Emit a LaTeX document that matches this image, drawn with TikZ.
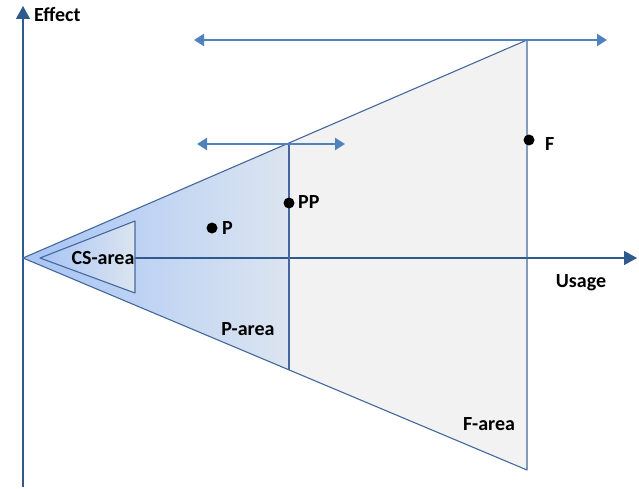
\documentclass[tikz,border=0pt]{standalone}
\usepackage{fontspec}
\setmainfont{Carlito}
\usetikzlibrary{arrows.meta}
\definecolor{axisblue}{HTML}{2E5A8E}
\definecolor{edgeblue}{HTML}{44689C}
\definecolor{arrowblue}{HTML}{4F81BD}
\definecolor{fgray}{HTML}{F2F2F2}
\definecolor{pleft}{HTML}{A6C4F5}
\definecolor{pright}{HTML}{DCE5F0}
\tikzset{
  axisline/.style={draw=axisblue, line width=1.4pt, -{Triangle[width=14pt,length=13pt]}},
  edgeline/.style={draw=edgeblue, line width=1.1pt, line join=round},
  spanarrow/.style={draw=arrowblue, line width=2.3pt, {Triangle[width=12pt,length=10pt]}-{Triangle[width=12pt,length=10pt]}},
  lbl/.style={font=\fontsize{20}{24}\selectfont\bfseries, text=black, inner sep=0pt},
  dot/.style={circle, fill=black, minimum size=11pt, inner sep=0pt}
}
\begin{document}
\begin{tikzpicture}[x=1pt,y=-1pt]
\useasboundingbox (0,0) rectangle (639,489);
% key points
\coordinate (O) at (23,258);
\coordinate (Ybot) at (23,487);
\coordinate (Ytop) at (23,6);
\coordinate (Xend) at (637,258);
\coordinate (Ftop) at (527,40);
\coordinate (Fbot) at (527,470);
\coordinate (PPtop) at (289,143);
\coordinate (PPbot) at (289,370);
\coordinate (CSapex) at (40,258);
\coordinate (CStop) at (135,221);
\coordinate (CSbot) at (135,293);
\coordinate (Xstart) at (135,258);
% axes
\draw[axisline] (Ybot) -- (Ytop);
% F-area
\fill[fgray] (O) -- (Ftop) -- (Fbot) -- cycle;
% P-area
\shade[left color=pleft, right color=pright] (O) -- (PPtop) -- (PPbot) -- cycle;
% CS-area
\shade[left color=pleft, right color=pright] (CSapex) -- (CStop) -- (CSbot) -- cycle;
% x axis
\draw[axisline] (Xstart) -- (Xend);
% outlines
\draw[edgeline] (O) -- (Ftop) -- (Fbot) -- cycle;
\draw[edgeline] (PPtop) -- (PPbot);
\draw[edgeline] (CSapex) -- (CStop) -- (CSbot) -- cycle;
% ranges
\coordinate (R1a) at (194,40);
\coordinate (R1b) at (607,40);
\coordinate (R2a) at (197,144);
\coordinate (R2b) at (345,144);
\draw[spanarrow] (R1a) -- (R1b);
\draw[spanarrow] (R2a) -- (R2b);
% points
\node[dot] (p) at (212,228) {};
\node[dot] (pp) at (289,203) {};
\node[dot] (f) at (529,140) {};
\node[lbl, anchor=west] (pl) at (222,228) {P};
\node[lbl, anchor=west] (ppl) at (298,202) {PP};
\node[lbl, anchor=west] (fl) at (545,144) {F};
% labels
\node[lbl, anchor=west] (eff) at (34,15) {Effect};
\node[lbl] (use) at (581,283) {Usage};
\node[lbl] (cs) at (103,258) {CS-area};
\node[lbl] (pa) at (248,329) {P-area};
\node[lbl] (fa) at (489,424) {F-area};
\end{tikzpicture}
\end{document}
